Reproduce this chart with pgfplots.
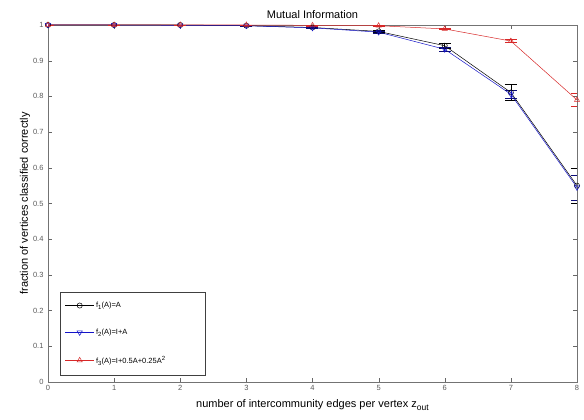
\documentclass[border=0pt]{standalone}
\usepackage{fontspec}
\setmainfont{Liberation Sans}
\usepackage{pgfplots}
\pgfplotsset{compat=1.18}
\definecolor{mblue}{RGB}{20,20,200}
\definecolor{mred}{RGB}{215,40,40}
\begin{document}
\begin{tikzpicture}
\useasboundingbox (-48pt,-38pt) rectangle (536pt,382pt);
\begin{axis}[
  at={(0,0)}, anchor=south west,
  scale only axis, width=529pt, height=357pt,
  xmin=0, xmax=8, ymin=0, ymax=1,
  xtick={0,...,8},
  ytick={0,0.1,0.2,0.3,0.4,0.5,0.6,0.7,0.8,0.9,1},
  yticklabels={0,0.1,0.2,0.3,0.4,0.5,0.6,0.7,0.8,0.9,1},
  tick align=inside,
  major tick length=4pt,
  axis line style={black!55},
  tick style={black!60},
  ticklabel style={font=\fontsize{7.5}{8}\selectfont, text=black!65},
  yticklabel style={xshift=-1pt},
  /pgf/number format/assume math mode=true,
  title={Mutual Information},
  title style={font=\fontsize{11}{12}\selectfont, yshift=-3pt},
  xlabel={number of intercommunity edges per vertex z\raisebox{-0.55ex}{\fontsize{8.5}{9}\selectfont out}},
  ylabel={fraction of vertices classified correctly},
  label style={font=\fontsize{11}{12}\selectfont},
  xlabel style={yshift=-2pt},
  ylabel style={yshift=-4pt},
  legend cell align=left,
  legend style={at={(0.0227,0.0196)}, anchor=south west, draw=black!75,
    font=\fontsize{7.5}{8}\selectfont, row sep=16pt, inner xsep=5pt, inner ysep=8pt},
  legend image code/.code={
    \draw[mark repeat=2,mark phase=2] plot coordinates {(0cm,0cm) (0.5cm,0cm) (1.0cm,0cm)};},
  error bars/error bar style={line width=0.5pt},
]
\addplot+[black, line width=0.5pt, mark=o, mark size=2.6pt, mark options={solid},
  error bars/.cd, y dir=both, y explicit, error mark options={rotate=90, mark size=6pt, black}]
  coordinates {
  (0,1) +- (0,0)
  (1,1) +- (0,0)
  (2,1) +- (0,0)
  (3,0.998) +- (0,0.001)
  (4,0.993) +- (0,0.002)
  (5,0.982) +- (0,0.003)
  (6,0.942) +- (0,0.006)
  (7,0.811) +- (0,0.022)
  (8,0.55) +- (0,0.05)
};
\addlegendentry{f\raisebox{-0.5ex}{\fontsize{6}{6}\selectfont 1}(A)=A}
\addplot+[mblue, line width=0.5pt, mark=triangle, mark size=3pt, mark options={solid, rotate=180},
  error bars/.cd, y dir=both, y explicit, error mark options={rotate=90, mark size=6pt, mblue!60!black}]
  coordinates {
  (0,1) +- (0,0)
  (1,1) +- (0,0)
  (2,0.999) +- (0,0)
  (3,0.998) +- (0,0.001)
  (4,0.992) +- (0,0.002)
  (5,0.980) +- (0,0.003)
  (6,0.932) +- (0,0.006)
  (7,0.806) +- (0,0.012)
  (8,0.545) +- (0,0.035)
};
\addlegendentry{f\raisebox{-0.5ex}{\fontsize{6}{6}\selectfont 2}(A)=I+A}
\addplot+[mred, line width=0.5pt, mark=triangle, mark size=3pt, mark options={solid},
  error bars/.cd, y dir=both, y explicit, error mark options={rotate=90, mark size=6pt, mred}]
  coordinates {
  (0,1) +- (0,0)
  (1,1) +- (0,0)
  (2,1) +- (0,0)
  (3,1) +- (0,0)
  (4,0.999) +- (0,0.001)
  (5,0.998) +- (0,0.001)
  (6,0.989) +- (0,0.002)
  (7,0.955) +- (0,0.004)
  (8,0.790) +- (0,0.018)
};
\addlegendentry{f\raisebox{-0.5ex}{\fontsize{6}{6}\selectfont 3}(A)=I+0.5A+0.25A\raisebox{0.8ex}{\fontsize{6}{6}\selectfont 2}\hspace*{33pt}}
\end{axis}
\end{tikzpicture}
\end{document}
